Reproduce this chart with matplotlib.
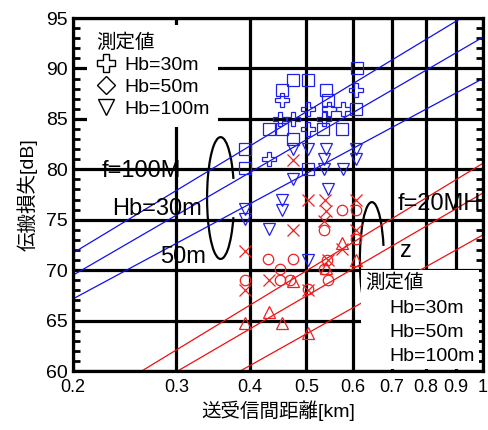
import numpy as np
import matplotlib
matplotlib.use('Agg')
import matplotlib.pyplot as plt
from matplotlib.lines import Line2D
from matplotlib.patches import Arc
from matplotlib.ticker import FixedLocator, FixedFormatter, MultipleLocator, NullLocator

plt.rcParams['font.family'] = ['Liberation Sans', 'Noto Sans CJK JP', 'DejaVu Sans']

################################################################################
# データ
# 計算値の直線（両端の値） 距離 [km]
d_line = [0.2, 1.0]
# f=100MHz  Hb=30m, 50m, 100m
blue_30 = [71.7, 96.3]
blue_50 = [69.5, 93.1]
blue_100 = [67.15, 89.0]
# f=20MHz  Hb=30m, 50m, 100m
red_30 = [55.85, 80.6]
red_50 = [53.95, 77.65]
red_100 = [50.7, 73.5]

# 測定値 f=100MHz
sq_d = [0.609, 0.475, 0.504, 0.454, 0.541, 0.545, 0.607, 0.432, 0.454, 0.534, 0.574, 0.475, 0.393, 0.393, 0.504]
sq_L = [90.0, 88.9, 88.9, 87.9, 87.9, 86.9, 85.95, 84.0, 84.0, 84.0, 84.0, 83.0, 82.0, 80.1, 80.0]
pl_d = [0.607, 0.454, 0.504, 0.547, 0.577, 0.451, 0.475, 0.536, 0.504, 0.432]
pl_L = [87.9, 86.9, 85.95, 85.95, 85.95, 84.96, 84.96, 84.96, 84.0, 81.0]
tv_d = [0.475, 0.504, 0.541, 0.607, 0.536, 0.607, 0.536, 0.577, 0.475, 0.545, 0.454, 0.454, 0.393, 0.393, 0.432, 0.504]
tv_L = [82.0, 82.0, 82.0, 82.0, 81.0, 81.0, 80.0, 80.0, 79.0, 78.0, 77.0, 76.0, 76.1, 75.1, 74.1, 71.0]

# 測定値 f=20MHz
rx_d = [0.475, 0.504, 0.538, 0.607, 0.540, 0.535, 0.475, 0.607, 0.393, 0.574, 0.544, 0.432, 0.393, 0.504]
rx_L = [80.9, 77.0, 77.0, 77.0, 75.9, 74.9, 74.0, 74.0, 71.9, 72.1, 71.0, 69.0, 68.0, 68.0]
ro_d = [0.574, 0.607, 0.535, 0.607, 0.430, 0.474, 0.543, 0.451, 0.535, 0.393, 0.451, 0.468, 0.544, 0.504]
ro_L = [76.0, 76.0, 74.0, 73.1, 71.1, 71.1, 71.0, 70.1, 70.1, 69.0, 69.0, 69.0, 69.0, 68.1]
rt_d = [0.574, 0.607, 0.474, 0.541, 0.432, 0.393, 0.454, 0.504]
rt_L = [72.7, 71.0, 68.9, 70.2, 65.9, 64.8, 64.8, 63.8]

xticks = [0.2, 0.3, 0.4, 0.5, 0.6, 0.7, 0.8, 0.9, 1.0]
xlabels = ['0.2', '0.3', '0.4', '0.5', '0.6', '0.7', '0.8', '0.9', '1']
yticks = [60, 65, 70, 75, 80, 85, 90, 95]
################################################################################

fig = plt.figure(figsize=(4.89, 4.30), dpi=100)
ax = fig.add_axes([0.1493, 0.1372, 0.8384, 0.8209])
ax.set_xscale('log')
ax.set_xlim(0.2, 1.0)
ax.set_ylim(60, 95)

# 計算値
for vals in [blue_30, blue_50, blue_100]:
    ax.plot(d_line, vals, color='#1010ee', lw=0.9)
for vals in [red_30, red_50, red_100]:
    ax.plot(d_line, vals, color='#ee1010', lw=0.9)

# 測定値
mk = dict(ls='none', mfc='none', mew=0.9)
ax.plot(sq_d, sq_L, marker='s', ms=9, mec='#2020ee', **mk)
ax.plot(pl_d, pl_L, marker='P', ms=10, mec='#2020ee', **mk)
ax.plot(tv_d, tv_L, marker='v', ms=8.5, mec='#2020ee', **mk)
ax.plot(rx_d, rx_L, marker='x', ms=8.5, mec='#ee2020', **mk)
ax.plot(ro_d, ro_L, marker='o', ms=7.5, mec='#ee2020', **mk)
ax.plot(rt_d, rt_L, marker='^', ms=8.5, mec='#ee2020', **mk)

# 軸
ax.xaxis.set_major_locator(FixedLocator(xticks))
ax.xaxis.set_major_formatter(FixedFormatter(xlabels))
ax.xaxis.set_minor_locator(NullLocator())
ax.yaxis.set_major_locator(FixedLocator(yticks))
ax.yaxis.set_minor_locator(MultipleLocator(1))
ax.grid(True, which='major', color='k', lw=2.3)
ax.tick_params(which='both', direction='in', top=True, right=True, width=2)
ax.tick_params(axis='y', which='major', length=12, labelsize=14)
ax.tick_params(axis='y', which='minor', length=5)
ax.tick_params(axis='x', which='major', length=6, labelsize=13, pad=6)
for s in ax.spines.values():
    s.set_linewidth(2.3)
ax.set_xlabel('送受信間距離[km]', fontsize=14, labelpad=3)
ax.set_ylabel('伝搬損失[dB]', fontsize=14, labelpad=6)

# 注記
ax.text(0.071, 0.5496, 'f=100M', transform=ax.transAxes, fontsize=17, va='baseline')
ax.text(0.095, 0.442, 'Hb=30m', transform=ax.transAxes, fontsize=17, va='baseline')
ax.text(0.212, 0.306, '50m', transform=ax.transAxes, fontsize=17, va='baseline')
ax.text(0.793, 0.456, 'f=20MH', transform=ax.transAxes, fontsize=17, va='baseline', clip_on=True)
ax.text(0.798, 0.323, 'z', transform=ax.transAxes, fontsize=17, va='baseline')
ax.add_patch(Arc((0.36, 0.49), 0.066, 0.345, theta1=60, theta2=300,
                 transform=ax.transAxes, color='k', lw=1.6))
ax.add_patch(Arc((0.729, 0.314), 0.0585, 0.329, theta1=55, theta2=268,
                 transform=ax.transAxes, color='k', lw=1.6))

# 凡例（左上）
h1 = [Line2D([], [], ls='none', marker='P', ms=13, mfc='w', mec='k', mew=1),
      Line2D([], [], ls='none', marker='D', ms=9, mfc='w', mec='k', mew=1),
      Line2D([], [], ls='none', marker='v', ms=12, mfc='w', mec='k', mew=1)]
leg1 = ax.legend(h1, ['Hb=30m', 'Hb=50m', 'Hb=100m'], title='測定値', title_fontsize=14,
                 fontsize=14, loc='upper left', bbox_to_anchor=(0.035, 0.98),
                 alignment='left', facecolor='w', edgecolor='none', framealpha=1,
                 fancybox=False, borderpad=0.45, labelspacing=0.22, handlelength=1.0,
                 handletextpad=0.45, borderaxespad=0)
ax.add_artist(leg1)

# 凡例（右下）
h2 = [Line2D([], [], ls='none') for i in range(3)]
ax.legend(h2, ['Hb=30m', 'Hb=50m', 'Hb=100m'], title='測定値', title_fontsize=14,
          fontsize=14, loc='lower right', bbox_to_anchor=(0.99, 0.005),
          alignment='left', facecolor='w', edgecolor='none', framealpha=1,
          fancybox=False, borderpad=0.2, labelspacing=0.35, handlelength=0.8,
          handletextpad=0.45, borderaxespad=0)

fig.savefig('out.png', dpi=100)
